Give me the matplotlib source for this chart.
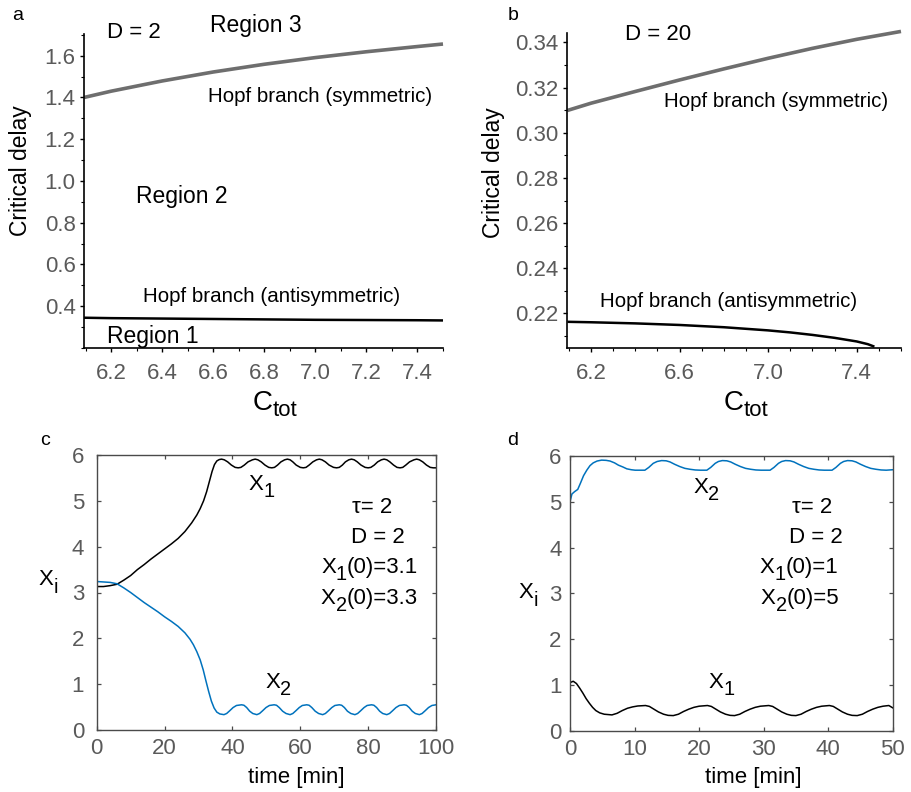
import matplotlib
matplotlib.use("Agg")
import matplotlib.pyplot as plt
from matplotlib.ticker import MultipleLocator, FormatStrFormatter, FixedLocator

plt.rcParams['font.family'] = ['Liberation Sans', 'DejaVu Sans']

W, H = 911, 792

# ---------------- data ----------------
# panel a (D = 2)
ctot_a = [6.094, 6.2, 6.4, 6.6, 6.8, 7.0, 7.2, 7.4, 7.5]
sym_a = [1.400, 1.430, 1.479, 1.522, 1.559, 1.591, 1.619, 1.644, 1.656]
anti_a = [0.345, 0.343, 0.341, 0.339, 0.337, 0.335, 0.334, 0.333, 0.332]

# panel b (D = 20)
ctot_b = [6.094, 6.2, 6.4, 6.6, 6.8, 7.0, 7.2, 7.4, 7.6]
sym_b = [0.3099, 0.3131, 0.3183, 0.3234, 0.3283, 0.3330, 0.3374, 0.3414, 0.3449]
ctot_b_anti = [6.094, 6.2, 6.4, 6.6, 6.8, 7.0, 7.1, 7.2, 7.3, 7.4, 7.45, 7.48]
anti_b = [0.2163, 0.2161, 0.2156, 0.2149, 0.2139, 0.2125, 0.2116, 0.2105, 0.2092, 0.2076, 0.2064, 0.2053]

# panel c (time series, tau=2, D=2)
t_c_x1 = [0, 2, 4, 6, 8, 10, 12, 14, 16, 18, 20, 22, 24, 26, 28, 29.5, 30.5, 31.5, 32.4, 33.2, 34.0, 34.7, 35.4, 36.1,
          36.8, 37.6, 38.6, 39.7, 40.8, 41.7, 42.5, 43.5, 44.6, 45.9,
          46.7, 47.5, 48.5, 49.6, 50.7, 51.6, 52.4, 53.3, 54.3, 55.4,
          56.2, 57.0, 57.8, 58.8, 60.0, 60.9, 61.7, 62.6, 63.7, 64.8,
          65.6, 66.4, 67.4, 68.5, 69.8, 70.7, 71.5, 72.4, 73.3, 74.3,
          75.1, 75.9, 76.8, 77.9, 79.1, 80.0, 80.8, 81.8, 82.8, 83.9,
          84.7, 85.5, 86.4, 87.5, 88.5, 89.4, 90.2, 91.1, 92.2, 93.5,
          94.3, 95.1, 96.1, 97.2, 98.3, 99.2, 100]
x1_c = [3.13, 3.13, 3.15, 3.18, 3.27, 3.37, 3.50, 3.61, 3.73, 3.84, 3.95, 4.06, 4.18, 4.33, 4.52, 4.69, 4.83, 5.00, 5.20, 5.42, 5.64, 5.79, 5.87, 5.90,
        5.91, 5.895, 5.85, 5.78, 5.73, 5.72, 5.73, 5.78, 5.85, 5.895,
        5.91, 5.895, 5.85, 5.78, 5.73, 5.72, 5.73, 5.78, 5.85, 5.895,
        5.91, 5.895, 5.85, 5.78, 5.73, 5.72, 5.73, 5.78, 5.85, 5.895,
        5.91, 5.895, 5.85, 5.78, 5.73, 5.72, 5.73, 5.78, 5.85, 5.895,
        5.91, 5.895, 5.85, 5.78, 5.73, 5.72, 5.73, 5.78, 5.85, 5.895,
        5.91, 5.895, 5.85, 5.78, 5.73, 5.72, 5.73, 5.78, 5.85, 5.895,
        5.91, 5.895, 5.85, 5.78, 5.73, 5.72, 5.72]

t_c_x2 = [0, 2, 4, 6, 8, 10, 12, 14, 16, 18, 20, 22, 24, 26, 27.5, 28.5, 29.5, 30.5, 31.4, 32.2, 33.0, 33.8, 34.6, 35.4, 36.3,
          37.5, 38.3, 39.2, 40.2, 41.2, 42.7, 43.4, 44.2, 45.1, 46.0,
          47.2, 48.0, 48.9, 49.9, 50.9, 52.3, 53.0, 53.8, 54.8, 55.8,
          57.0, 57.8, 58.7, 59.7, 60.6, 61.9, 62.6, 63.4, 64.4, 65.4,
          66.6, 67.4, 68.3, 69.3, 70.2, 71.5, 72.2, 73.0, 73.9, 74.9,
          76.1, 76.9, 77.8, 78.8, 79.7, 81.0, 81.7, 82.5, 83.4, 84.3,
          85.5, 86.3, 87.2, 88.2, 89.2, 90.6, 91.3, 92.1, 93.0, 93.9,
          95.1, 95.9, 96.8, 97.8, 98.8, 100]
x2_c = [3.24, 3.23, 3.22, 3.19, 3.10, 3.00, 2.89, 2.78, 2.68, 2.58, 2.47, 2.37, 2.26, 2.12, 1.98, 1.86, 1.71, 1.53, 1.31, 1.07, 0.84, 0.63, 0.48, 0.39, 0.35,
        0.335, 0.36, 0.42, 0.49, 0.535, 0.55, 0.54, 0.49, 0.41, 0.36,
        0.335, 0.36, 0.42, 0.49, 0.535, 0.55, 0.54, 0.49, 0.41, 0.36,
        0.335, 0.36, 0.42, 0.49, 0.535, 0.55, 0.54, 0.49, 0.41, 0.36,
        0.335, 0.36, 0.42, 0.49, 0.535, 0.55, 0.54, 0.49, 0.41, 0.36,
        0.335, 0.36, 0.42, 0.49, 0.535, 0.55, 0.54, 0.49, 0.41, 0.36,
        0.335, 0.36, 0.42, 0.49, 0.535, 0.55, 0.54, 0.49, 0.41, 0.36,
        0.335, 0.36, 0.42, 0.49, 0.535, 0.55]

# panel d (time series, tau=2, D=2)
t_d_x2 = [0, 0.3, 0.7, 1.2, 1.6, 2.1, 2.6, 3.1, 3.6, 4.2, 4.9, 5.6, 6.2, 6.9, 7.5, 8.2, 8.8, 9.5, 10.1, 11.6,
          12.2, 12.9, 13.5, 14.2, 14.9, 15.5, 16.2, 17.0, 17.8, 18.6, 19.4, 20.2, 21.2,
          21.8, 22.5, 23.0, 23.6, 24.3, 24.9, 25.6, 26.4, 27.2, 28.0, 28.8, 29.6, 31.0,
          31.6, 32.3, 32.8, 33.4, 34.1, 34.7, 35.4, 36.2, 37.0, 37.8, 38.6, 39.4, 40.6,
          41.2, 41.9, 42.4, 43.0, 43.7, 44.3, 45.0, 45.8, 46.6, 47.4, 48.2, 49.0, 50.0]
x2_d = [5.00, 5.17, 5.22, 5.27, 5.40, 5.57, 5.69, 5.79, 5.85, 5.89, 5.91, 5.905, 5.89, 5.85, 5.80, 5.76, 5.72, 5.70, 5.69, 5.69,
        5.75, 5.84, 5.88, 5.90, 5.895, 5.87, 5.82, 5.77, 5.73, 5.71, 5.695, 5.69, 5.69,
        5.75, 5.84, 5.88, 5.90, 5.895, 5.87, 5.82, 5.77, 5.73, 5.71, 5.695, 5.69, 5.69,
        5.75, 5.84, 5.88, 5.90, 5.895, 5.87, 5.82, 5.77, 5.73, 5.71, 5.695, 5.69, 5.69,
        5.75, 5.84, 5.88, 5.90, 5.895, 5.87, 5.82, 5.77, 5.73, 5.71, 5.695, 5.69, 5.70]

t_d_x1 = [0, 0.5, 1.0, 1.5, 2.0, 2.5, 3.0, 3.5, 4.0, 4.6, 5.3, 6.5, 7.3, 8.1, 8.9, 9.7, 10.5, 11.7,
          12.3, 13.0, 13.7, 14.5, 15.2, 16.0, 16.8, 17.6, 18.4, 19.2, 20.0, 21.3,
          21.9, 22.6, 23.3, 24.1, 24.8, 25.5, 26.3, 27.1, 27.9, 28.7, 29.5, 30.8,
          31.4, 32.1, 32.8, 33.6, 34.3, 35.0, 35.8, 36.6, 37.4, 38.2, 39.0, 40.2,
          40.8, 41.5, 42.2, 43.0, 43.7, 44.5, 45.3, 46.1, 46.9, 47.7, 48.5, 49.4, 50.0]
x1_d = [1.05, 1.08, 1.03, 0.93, 0.82, 0.70, 0.60, 0.51, 0.44, 0.39, 0.36, 0.345, 0.38, 0.44, 0.49, 0.52, 0.54, 0.55,
        0.53, 0.47, 0.41, 0.36, 0.335, 0.33, 0.36, 0.42, 0.47, 0.51, 0.535, 0.55,
        0.53, 0.47, 0.41, 0.36, 0.335, 0.33, 0.36, 0.42, 0.47, 0.51, 0.535, 0.55,
        0.53, 0.47, 0.41, 0.36, 0.335, 0.33, 0.36, 0.42, 0.47, 0.51, 0.535, 0.55,
        0.53, 0.47, 0.41, 0.36, 0.335, 0.33, 0.36, 0.42, 0.47, 0.51, 0.535, 0.55, 0.50]

xticks_a = [6.2, 6.4, 6.6, 6.8, 7.0, 7.2, 7.4]
yticks_a = [0.4, 0.6, 0.8, 1.0, 1.2, 1.4, 1.6]
xticks_b = [6.2, 6.6, 7.0, 7.4]
yticks_b = [0.22, 0.24, 0.26, 0.28, 0.30, 0.32, 0.34]
xticks_c = [0, 20, 40, 60, 80, 100]
xticks_d = [0, 10, 20, 30, 40, 50]
yticks_cd = [0, 1, 2, 3, 4, 5, 6]

# ---------------- figure ----------------
fig = plt.figure(figsize=(W / 100, H / 100), dpi=100)

def rect(l, t, r, b):
    return [l / W, 1 - b / H, (r - l) / W, (b - t) / H]

GRAY_TXT = '#5a5a5a'
SYM = '#6e6e6e'
BLUE = '#0072BD'

def style_top(ax):
    for s in ['top', 'right']:
        ax.spines[s].set_visible(False)
    for s in ['left', 'bottom']:
        ax.spines[s].set_linewidth(1.2)
    ax.tick_params(which='major', direction='out', length=3, width=1, labelsize=16,
                   labelcolor=GRAY_TXT)
    ax.tick_params(which='minor', direction='out', length=2, width=0.8)
    ax.tick_params(axis='y', which='major', pad=3)
    ax.tick_params(axis='x', which='major', pad=8)

ax_a = fig.add_axes(rect(84, 34, 443, 348))
ax_a.plot(ctot_a, sym_a, color=SYM, lw=2.6, clip_on=False, solid_capstyle='butt')
ax_a.plot(ctot_a, anti_a, color='black', lw=1.8, clip_on=False, solid_capstyle='butt')
ax_a.set_xlim(6.094, 7.5)
ax_a.set_ylim(0.2, 1.704)
ax_a.xaxis.set_major_locator(FixedLocator(xticks_a))
ax_a.yaxis.set_major_locator(FixedLocator(yticks_a))
ax_a.xaxis.set_minor_locator(MultipleLocator(0.1))
ax_a.yaxis.set_minor_locator(MultipleLocator(0.1))
ax_a.xaxis.set_major_formatter(FormatStrFormatter('%.1f'))
ax_a.yaxis.set_major_formatter(FormatStrFormatter('%.1f'))
style_top(ax_a)

ax_b = fig.add_axes(rect(567, 33, 901, 348))
ax_b.plot(ctot_b, sym_b, color=SYM, lw=2.6, clip_on=False, solid_capstyle='butt')
ax_b.plot(ctot_b_anti, anti_b, color='black', lw=1.8, clip_on=False, solid_capstyle='butt')
ax_b.set_xlim(6.092, 7.6)
ax_b.set_ylim(0.2047, 0.3442)
ax_b.xaxis.set_major_locator(FixedLocator(xticks_b))
ax_b.yaxis.set_major_locator(FixedLocator(yticks_b))
ax_b.xaxis.set_minor_locator(MultipleLocator(0.1))
ax_b.yaxis.set_minor_locator(MultipleLocator(0.01))
ax_b.xaxis.set_major_formatter(FormatStrFormatter('%.1f'))
ax_b.yaxis.set_major_formatter(FormatStrFormatter('%.2f'))
style_top(ax_b)

def style_bot(ax, ypad, xpad):
    for s in ax.spines.values():
        s.set_color('#4a4a4a')
        s.set_linewidth(1.0)
    ax.tick_params(which='major', direction='in', length=3.2, width=0.9, color='#4a4a4a',
                   labelsize=16, labelcolor=GRAY_TXT, top=True, right=True)
    ax.tick_params(axis='y', pad=ypad)
    ax.tick_params(axis='x', pad=xpad)

ax_c = fig.add_axes(rect(96.7, 455, 436, 730))
ax_c.plot(t_c_x1, x1_c, color='black', lw=1.1)
ax_c.plot(t_c_x2, x2_c, color=BLUE, lw=1.1)
ax_c.set_xlim(0, 100)
ax_c.set_ylim(0, 6)
ax_c.set_xticks(xticks_c)
ax_c.set_yticks(yticks_cd)
style_bot(ax_c, 9, 5.5)

ax_d = fig.add_axes(rect(570, 456, 892.7, 730.7))
ax_d.plot(t_d_x2, x2_d, color=BLUE, lw=1.1)
ax_d.plot(t_d_x1, x1_d, color='black', lw=1.1)
ax_d.set_xlim(0, 50)
ax_d.set_ylim(0, 6)
ax_d.set_xticks(xticks_d)
ax_d.set_yticks(yticks_cd)
style_bot(ax_d, 6, 6)

# ---------------- texts ----------------
def ptext(x, y, s, size, ha='center', va='baseline', **kw):
    return fig.text(x / W, 1 - y / H, s, fontsize=size, ha=ha, va=va, **kw)

renderer = fig.canvas.get_renderer()

def subtext(x, y, parts, size, ha='left', sub_scale=0.9, drop=7.0):
    objs = []
    widths = []
    for s, sub in parts:
        fs = size * sub_scale if sub else size
        t = fig.text(0, 0, s, fontsize=fs, ha='left', va='baseline')
        widths.append(t.get_window_extent(renderer).width)
        objs.append((t, sub))
    total = sum(widths)
    x0 = x - total / 2 if ha == 'center' else x
    cum = 0
    for (t, sub), w in zip(objs, widths):
        yy = y + (drop if sub else 0)
        t.set_position(((x0 + cum) / W, 1 - yy / H))
        cum += w

# panel letters
ptext(12, 20, 'a', 14, ha='left')
ptext(508, 20, 'b', 14, ha='left')
ptext(40, 445, 'c', 14, ha='left')
ptext(507, 445, 'd', 14, ha='left')

# panel a
ptext(134, 38.3, 'D = 2', 16)
ptext(256.3, 32.3, 'Region 3', 16.5)
ptext(320, 101.7, 'Hopf branch (symmetric)', 14.8)
ptext(182, 202.7, 'Region 2', 16.5)
ptext(272, 301.7, 'Hopf branch (antisymmetric)', 14.8)
ptext(153.2, 342.7, 'Region 1', 16.5)
ptext(21, 171, 'Critical delay', 16.5, va='center', rotation=90)
subtext(253, 410, [('C', False), ('tot', True)], 20, sub_scale=0.8, drop=5.5)

# panel b
ptext(657.8, 40, 'D = 20', 16)
ptext(776.2, 106.7, 'Hopf branch (symmetric)', 14.8)
ptext(728.3, 306.7, 'Hopf branch (antisymmetric)', 14.8)
ptext(493, 172.5, 'Critical delay', 16.5, va='center', rotation=90)
subtext(724, 410, [('C', False), ('tot', True)], 20, sub_scale=0.8, drop=5.5)

# panel c
subtext(38.3, 585, [('X', False), ('i', True)], 16, drop=8)
subtext(248.3, 490, [('X', False), ('1', True)], 16)
subtext(265, 688.3, [('X', False), ('2', True)], 16)
ptext(371.7, 513.3, 'τ= 2', 16)
ptext(377.5, 542.7, 'D = 2', 16)
subtext(369.7, 573.3, [('X', False), ('1', True), ('(0)=3.1', False)], 16, ha='center')
subtext(369.5, 604, [('X', False), ('2', True), ('(0)=3.3', False)], 16, ha='center')
ptext(296, 783, 'time [min]', 16)

# panel d
subtext(518.3, 598.3, [('X', False), ('i', True)], 16, drop=8)
subtext(693.3, 493.3, [('X', False), ('2', True)], 16)
subtext(708.3, 688.3, [('X', False), ('1', True)], 16)
ptext(811.7, 513.3, 'τ= 2', 16)
ptext(816, 542.7, 'D = 2', 16)
subtext(799, 573.3, [('X', False), ('1', True), ('(0)=1', False)], 16, ha='center')
subtext(800, 604, [('X', False), ('2', True), ('(0)=5', False)], 16, ha='center')
ptext(753.8, 783, 'time [min]', 16)

fig.savefig('out.png', dpi=100)
